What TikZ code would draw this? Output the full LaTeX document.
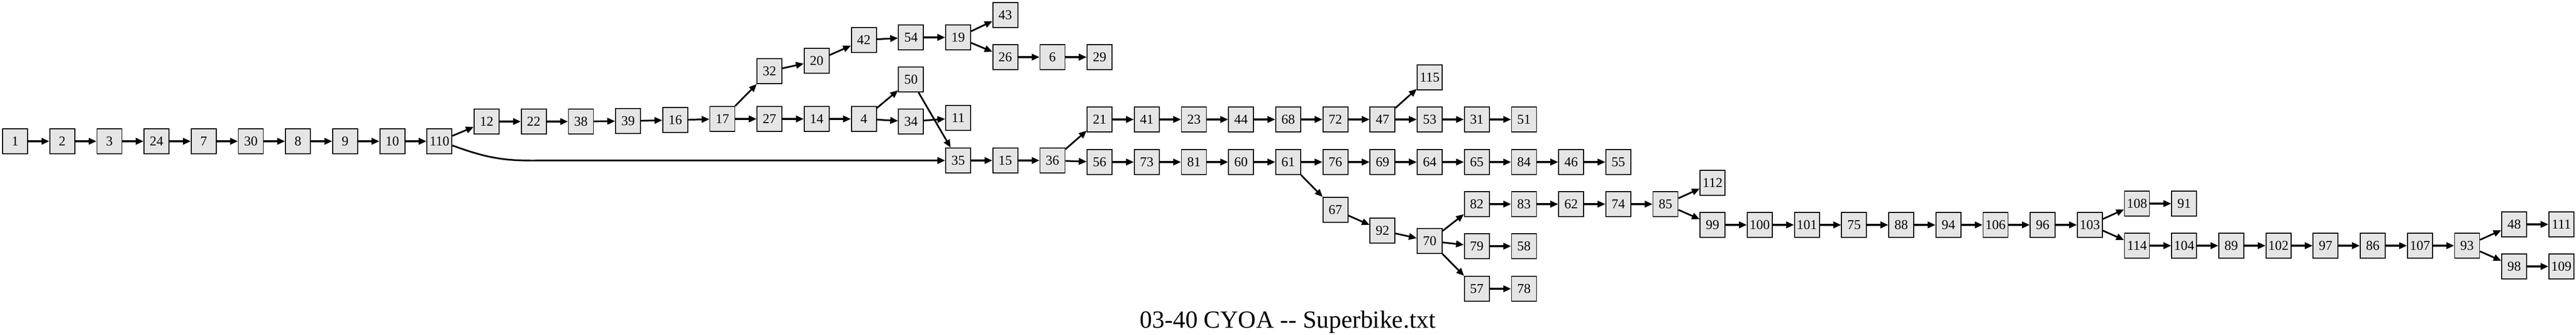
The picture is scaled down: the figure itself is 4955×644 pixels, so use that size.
\documentclass[tikz,border=0pt]{standalone}
\usepackage{fontspec}
\setmainfont{Liberation Serif}
\usetikzlibrary{arrows.meta}

\tikzstyle{page}=[rectangle,draw=black,fill=gray!20,line width=0.9pt,minimum size=24pt,inner sep=0pt,font=\fontsize{13}{15}\selectfont]
\tikzstyle{link}=[-{Triangle[length=7.5pt,width=6.3pt]},line width=1.6pt]
\tikzstyle{caption}=[anchor=base,inner sep=0pt,font=\fontsize{23.8}{28}\selectfont]

\begin{document}
\begin{tikzpicture}[x=0.5pt,y=-0.5pt]
			\useasboundingbox (0,0) rectangle (4955,644);
			%The opening chain
			\foreach \col/\row/\name in {0/272/1, 1/272/2, 2/272/3, 3/272/24, 4/272/7,
									 5/272/30, 6/272/8, 7/272/9, 8/272/10, 9/272/110,
									 10/234/12, 11/234/22, 12/234/38, 13/233/39, 14/231/16, 15/229/17}
			\node[page] (n\name) at ({29+90.7*\col},\row) {\name};
			%Upper branches
			\foreach \col/\row/\name in {16/137/32, 17/117/20, 18/77/42, 19/72/54, 20/72/19,
									 21/29/43, 21/110/26, 22/110/6, 23/110/29,
									 16/229/27, 17/229/14, 18/229/4, 19/153/50, 19/234/34, 20/227/11}
			\node[page] (n\name) at ({29+90.7*\col},\row) {\name};
			%Middle rows
			\foreach \col/\row/\name in {20/309/35, 21/309/15, 22/309/36,
									 23/230/21, 24/230/41, 25/230/23, 26/230/44, 27/230/68, 28/230/72,
									 29/230/47, 30/149/115, 30/230/53, 31/230/31, 32/230/51,
									 23/312/56, 24/312/73, 25/312/81, 26/312/60, 27/312/61, 28/312/76,
									 29/312/69, 30/312/64, 31/312/65, 32/312/84, 33/312/46, 34/312/55}
			\node[page] (n\name) at ({29+90.7*\col},\row) {\name};
			%Lower rows
			\foreach \col/\row/\name in {28/404/67, 29/444/92, 30/464/70,
									 31/393/82, 32/393/83, 33/393/62, 34/393/74, 35/393/85,
									 31/474/79, 32/474/58, 31/556/57, 32/556/78,
									 36/352/112, 36/433/99, 37/433/100, 38/433/101, 39/433/75,
									 40/433/88, 41/433/94, 42/433/106, 43/433/96, 44/433/103}
			\node[page] (n\name) at ({29+90.7*\col},\row) {\name};
			%The closing rows
			\foreach \col/\row/\name in {45/392/108, 46/392/91, 45/473/114, 46/473/104,
									 47/473/89, 48/473/102, 49/473/97, 50/473/86, 51/473/107,
									 52/473/93, 53/432/48, 54/432/111, 53/513/98, 54/513/109}
			\node[page] (n\name) at ({29+90.7*\col},\row) {\name};
			%Edges
			\foreach \a/\b in {1/2, 2/3, 3/24, 24/7, 7/30, 30/8, 8/9, 9/10, 10/110, 110/12,
							   12/22, 22/38, 38/39, 39/16, 16/17, 17/32, 17/27, 32/20, 20/42,
							   42/54, 54/19, 19/43, 19/26, 26/6, 6/29, 27/14, 14/4, 4/50, 4/34,
							   50/35, 34/11, 35/15, 15/36, 36/21, 36/56, 21/41, 41/23, 23/44,
							   44/68, 68/72, 72/47, 47/115, 47/53, 53/31, 31/51, 56/73, 73/81,
							   81/60, 60/61, 61/76, 61/67, 76/69, 69/64, 64/65, 65/84, 84/46,
							   46/55, 67/92, 92/70, 70/82, 70/79, 70/57, 82/83, 83/62, 62/74,
							   74/85, 85/112, 85/99, 79/58, 57/78, 99/100, 100/101, 101/75,
							   75/88, 88/94, 94/106, 106/96, 96/103, 103/108, 103/114, 108/91,
							   114/104, 104/89, 89/102, 102/97, 97/86, 86/107, 107/93, 93/48,
							   93/98, 48/111, 98/109}
			\draw[link] (n\a) -- (n\b);
			%The long jump
			\draw[link] (n110.-18) to[out=-20,in=180] ++(150,29) -- (n35);
			\node[caption] (title) at (2477,631) {03-40 CYOA -\kern0pt- Superbike.txt};
		\end{tikzpicture}
\end{document}
